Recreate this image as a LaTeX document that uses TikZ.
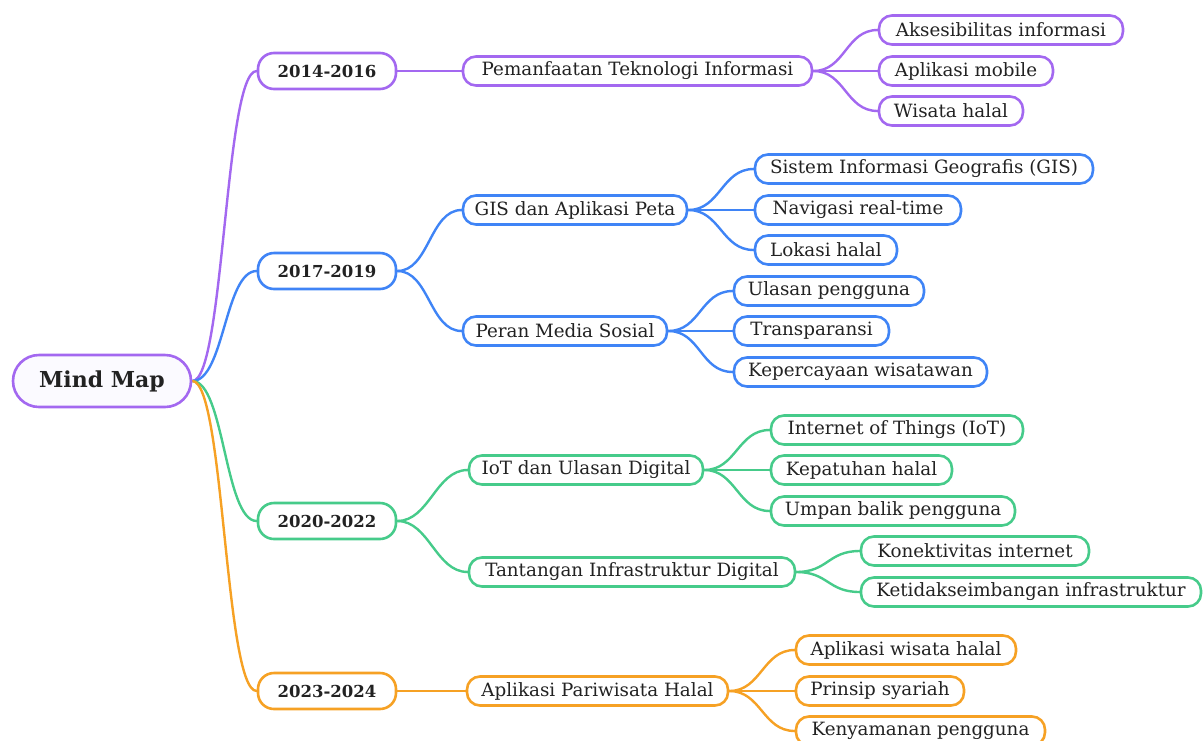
\documentclass[tikz,border=0pt]{standalone}
\usepackage{fontspec}
\setmainfont{DejaVu Serif}
\usetikzlibrary{backgrounds}
\definecolor{cpurple}{HTML}{A368F0}
\definecolor{cblue}{HTML}{3F84F6}
\definecolor{cgreen}{HTML}{46CB8A}
\definecolor{corange}{HTML}{F6A124}
\definecolor{ctext}{HTML}{222222}
\definecolor{rootfill}{HTML}{FBFAFF}
\tikzset{
  box/.style={draw, line width=2.6pt, fill=white, rounded corners=13pt,
    minimum height=29pt, inner sep=0pt, text=ctext,
    font=\fontsize{18.3}{22}\selectfont},
  yearbox/.style={box, rounded corners=16pt, minimum height=36pt,
    font=\fontsize{16.5}{20}\selectfont\bfseries},
  rootbox/.style={box, rounded corners=26pt, minimum height=52pt,
    fill=rootfill, font=\fontsize{22}{26}\selectfont\bfseries},
  conn/.style={line width=2.4pt, line cap=round},
}
\newcommand{\link}[4][32]{\draw[conn,#2] (#3.east) .. controls +(#1,0) and +(-#1,0) .. (#4.west);}
\begin{document}
\begin{tikzpicture}[x=1pt,y=-1pt]
\useasboundingbox (0,0) rectangle (1203,740);
\clip (0,0) rectangle (1203,740);
% root
\node[rootbox, draw=cpurple, minimum width=178pt] (root) at (102,381) {Mind Map};
% level 1
\node[yearbox, draw=cpurple, minimum width=138pt] (y1) at (327,71) {2014-2016};
\node[yearbox, draw=cblue, minimum width=138pt] (y2) at (327,271) {2017-2019};
\node[yearbox, draw=cgreen, minimum width=138pt] (y3) at (327,521) {2020-2022};
\node[yearbox, draw=corange, minimum width=138pt] (y4) at (327,691) {2023-2024};
% level 2
\node[box, draw=cpurple, minimum width=349pt] (a) at (637.5,71) {Pemanfaatan Teknologi Informasi};
\node[box, draw=cblue, minimum width=224pt] (b) at (575,210) {GIS dan Aplikasi Peta};
\node[box, draw=cblue, minimum width=204pt] (c) at (565,331) {Peran Media Sosial};
\node[box, draw=cgreen, minimum width=234pt] (d) at (586,470) {IoT dan Ulasan Digital};
\node[box, draw=cgreen, minimum width=326pt] (e) at (632,572) {Tantangan Infrastruktur Digital};
\node[box, draw=corange, minimum width=261pt] (f) at (597.5,691) {Aplikasi Pariwisata Halal};
% level 3
\node[box, draw=cpurple, minimum width=244pt] (a1) at (1001,30) {Aksesibilitas informasi};
\node[box, draw=cpurple, minimum width=174pt] (a2) at (966,71) {Aplikasi mobile};
\node[box, draw=cpurple, minimum width=144pt] (a3) at (951,111) {Wisata halal};
\node[box, draw=cblue, minimum width=338pt] (b1) at (924,169) {Sistem Informasi Geografis (GIS)};
\node[box, draw=cblue, minimum width=206pt] (b2) at (858,210) {Navigasi real-time};
\node[box, draw=cblue, minimum width=142pt] (b3) at (826,250) {Lokasi halal};
\node[box, draw=cblue, minimum width=190pt] (c1) at (829,291) {Ulasan pengguna};
\node[box, draw=cblue, minimum width=155pt] (c2) at (811.5,331) {Transparansi};
\node[box, draw=cblue, minimum width=253pt] (c3) at (860.5,372) {Kepercayaan wisatawan};
\node[box, draw=cgreen, minimum width=252pt] (d1) at (897,430) {Internet of Things (IoT)};
\node[box, draw=cgreen, minimum width=181pt] (d2) at (861.5,470) {Kepatuhan halal};
\node[box, draw=cgreen, minimum width=244pt] (d3) at (893,511) {Umpan balik pengguna};
\node[box, draw=cgreen, minimum width=228pt] (e1) at (975,551) {Konektivitas internet};
\node[box, draw=cgreen, minimum width=340pt] (e2) at (1031,592) {Ketidakseimbangan infrastruktur};
\node[box, draw=corange, minimum width=220pt] (f1) at (906,650) {Aplikasi wisata halal};
\node[box, draw=corange, minimum width=168pt] (f2) at (880,691) {Prinsip syariah};
\node[box, draw=corange, minimum width=249pt] (f3) at (920.5,731) {Kenyamanan pengguna};
\begin{scope}[on background layer]
\link{cpurple}{root}{y1}
\link{cblue}{root}{y2}
\link{cgreen}{root}{y3}
\link{corange}{root}{y4}
\link{cpurple}{y1}{a}
\link{cblue}{y2}{b}
\link{cblue}{y2}{c}
\link{cgreen}{y3}{d}
\link{cgreen}{y3}{e}
\link{corange}{y4}{f}
\link{cpurple}{a}{a1}
\link{cpurple}{a}{a2}
\link{cpurple}{a}{a3}
\link{cblue}{b}{b1}
\link{cblue}{b}{b2}
\link{cblue}{b}{b3}
\link{cblue}{c}{c1}
\link{cblue}{c}{c2}
\link{cblue}{c}{c3}
\link{cgreen}{d}{d1}
\link{cgreen}{d}{d2}
\link{cgreen}{d}{d3}
\link{cgreen}{e}{e1}
\link{cgreen}{e}{e2}
\link{corange}{f}{f1}
\link{corange}{f}{f2}
\link{corange}{f}{f3}
\end{scope}
\end{tikzpicture}
\end{document}
